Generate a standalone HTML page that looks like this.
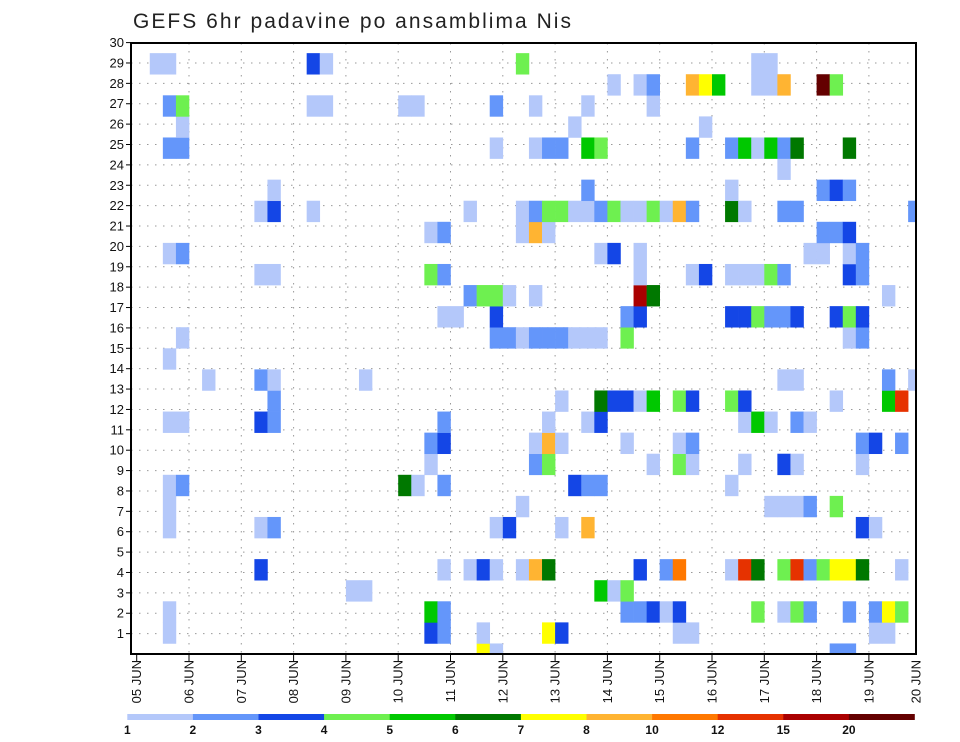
<!DOCTYPE html>
<html><head><meta charset="utf-8">
<style>
body{margin:0;background:#fff;}
svg{display:block;font-family:"Liberation Sans",sans-serif;}
</style></head>
<body>
<svg id="chart" width="960" height="742" viewBox="0 0 960 742">
<text x="133" y="28" font-size="21" fill="#222" textLength="438" lengthAdjust="spacing">GEFS 6hr padavine po ansamblima Nis</text>
<defs><clipPath id="plotclip"><rect x="131" y="43" width="785" height="611"/></clipPath></defs>
<g id="grid"></g>
<g id="cells" clip-path="url(#plotclip)"></g>
<rect x="131" y="43" width="785" height="611" fill="none" stroke="#000" stroke-width="2"/>
<g id="yaxis"></g>
<g id="xaxis"></g>
<g id="legend"></g>
</svg>
<script>
// ---- data ----
const dayLabels = ["05 JUN","06 JUN","07 JUN","08 JUN","09 JUN","10 JUN","11 JUN","12 JUN","13 JUN","14 JUN","15 JUN","16 JUN","17 JUN","18 JUN","19 JUN","20 JUN"];
const yTicks = [1,2,3,4,5,6,7,8,9,10,11,12,13,14,15,16,17,18,19,20,21,22,23,24,25,26,27,28,29,30];
const levels = [1,2,3,4,5,6,7,8,10,12,15,20];
const levelColors = ["#b4c8fa","#6496fa","#1446e6","#6ef050","#00c800","#007800","#ffff00","#ffb432","#ff7800","#e63200","#aa0000","#640000"];
const cellMember = [];
const cellCol = [];
const cellValue = [];
const rowsSpec = {
28:"1:1.5,2:1.5,13:3.5,14:1.5,29:4.5,47:1.5,48:1.5",
27:"36:1.5,38:1.5,39:2.5,42:9,43:7.5,44:5.5,47:1.5,48:1.5,49:9,52:25,53:4.5",
26:"2:2.5,3:4.5,13:1.5,14:1.5,20:1.5,21:1.5,27:2.5,30:1.5,34:1.5,39:1.5",
25:"3:1.5,33:1.5,43:1.5",
24:"2:2.5,3:2.5,27:1.5,30:1.5,31:2.5,32:2.5,34:5.5,35:4.5,42:2.5,45:2.5,46:5.5,47:1.5,48:5.5,49:2.5,50:6.5,54:6.5",
23:"49:1.5",
22:"10:1.5,34:2.5,45:1.5,52:2.5,53:3.5,54:2.5",
21:"9:1.5,10:3.5,13:1.5,25:1.5,29:1.5,30:2.5,31:4.5,32:4.5,33:1.5,34:1.5,35:2.5,36:4.5,37:1.5,38:1.5,39:4.5,40:1.5,41:9,42:2.5,45:6.5,46:1.5,49:2.5,50:2.5,59:2.5",
20:"22:1.5,23:2.5,29:1.5,30:9,31:1.5,52:2.5,53:2.5,54:3.5",
19:"2:1.5,3:2.5,35:1.5,36:3.5,38:1.5,51:1.5,52:1.5,54:1.5,55:2.5",
18:"9:1.5,10:1.5,22:4.5,23:2.5,38:1.5,42:1.5,43:3.5,45:1.5,46:1.5,47:1.5,48:4.5,49:2.5,54:3.5,55:2.5",
17:"25:2.5,26:4.5,27:4.5,28:1.5,30:1.5,38:17,39:6.5,57:1.5",
16:"23:1.5,24:1.5,27:3.5,37:2.5,38:3.5,45:3.5,46:3.5,47:4.5,48:2.5,49:2.5,50:3.5,53:3.5,54:4.5,55:3.5",
15:"3:1.5,27:2.5,28:2.5,29:1.5,30:2.5,31:2.5,32:2.5,33:1.5,34:1.5,35:1.5,37:4.5,54:1.5,55:2.5",
14:"2:1.5",
13:"5:1.5,9:2.5,10:1.5,17:1.5,49:1.5,50:1.5,57:2.5,59:1.5",
12:"10:2.5,32:1.5,35:6.5,36:3.5,37:3.5,38:1.5,39:5.5,41:4.5,42:3.5,45:4.5,46:3.5,53:1.5,57:5.5,58:13",
11:"2:1.5,3:1.5,9:3.5,10:2.5,23:2.5,31:1.5,34:1.5,35:3.5,46:1.5,47:5.5,48:1.5,50:2.5,51:1.5",
10:"22:2.5,23:3.5,30:1.5,31:9,32:1.5,37:1.5,41:1.5,42:2.5,55:2.5,56:3.5,58:2.5",
9:"22:1.5,30:2.5,31:4.5,39:1.5,41:4.5,42:1.5,46:1.5,49:3.5,50:1.5,55:1.5",
8:"2:1.5,3:2.5,20:6.5,21:1.5,23:2.5,33:3.5,34:2.5,35:2.5,45:1.5",
7:"2:1.5,29:1.5,48:1.5,49:1.5,50:1.5,51:2.5,53:4.5",
6:"2:1.5,9:1.5,10:2.5,27:1.5,28:3.5,32:1.5,34:9,55:3.5,56:1.5",
4:"9:3.5,23:1.5,25:1.5,26:3.5,27:1.5,29:1.5,30:9,31:6.5,38:3.5,40:2.5,41:11,45:1.5,46:13,47:6.5,49:4.5,50:13,51:2.5,52:4.5,53:7.5,54:7.5,55:6.5,58:1.5",
3:"16:1.5,17:1.5,35:5.5,36:1.5,37:4.5",
2:"2:1.5,22:5.5,23:2.5,37:2.5,38:2.5,39:3.5,40:1.5,41:3.5,47:4.5,49:1.5,50:4.5,51:2.5,54:2.5,56:2.5,57:7.5,58:4.5",
1:"2:1.5,22:3.5,23:2.5,26:1.5,31:7.5,32:3.5,41:1.5,42:1.5,56:1.5,57:1.5",
0:"26:7.5,27:1.5,53:2.5,54:2.5"
};
for (const m in rowsSpec) {
  rowsSpec[m].split(",").forEach(p => { const [c,v] = p.split(":"); cellMember.push(+m); cellCol.push(+c); cellValue.push(+v); });
}
// ---- scales ----
const NS = "http://www.w3.org/2000/svg";
function xDay(d){ return 136.7 + 52.3*d; }
function yVal(v){ return 654 - 20.38*v; }
function colX(c){ return xDay(c/4); }
const colW = 52.3/4;
function memberY(m){ return yVal(m*30/29); }
const rowH = 20.38*30/29;
function colorFor(v){ let k=0; for(let i=0;i<levels.length;i++){ if(v>=levels[i]) k=i; } return levelColors[k]; }
function mk(tag, attrs, parent){ const e=document.createElementNS(NS,tag); for(const a in attrs) e.setAttribute(a,attrs[a]); parent.appendChild(e); return e; }

const grid = document.getElementById('grid');
yTicks.forEach(t => {
  const l = mk('line',{x1:131,x2:916,y1:yVal(t),y2:yVal(t),stroke:'#999','stroke-width':1,'stroke-dasharray':'1.5,6.5'},grid);
  
  
});
dayLabels.forEach((d,i) => {
  if (i===0 || i===dayLabels.length-1) return;
  const l = mk('line',{x1:xDay(i),x2:xDay(i),y1:43,y2:654,stroke:'#999','stroke-width':1,'stroke-dasharray':'1.5,6.5'},grid);
  
  
});

const cells = document.getElementById('cells');
for (let i=0;i<cellValue.length;i++){
  const r = mk('rect',{x:colX(cellCol[i]),y:memberY(cellMember[i])-rowH/2,width:colW+0.3,height:rowH+0.3,fill:colorFor(cellValue[i])},cells);
  
  
}

const yaxis = document.getElementById('yaxis');
yTicks.forEach(t => {
  const y = yVal(t);
  const tk = mk('line',{x1:126,x2:131,y1:y,y2:y,stroke:'#000','stroke-width':1},yaxis);
  
  
  const tx = mk('text',{x:124,y:y+4.5,'font-size':13,'text-anchor':'end',fill:'#111'},yaxis);
  tx.textContent = t;
  
  
});

const xaxis = document.getElementById('xaxis');
dayLabels.forEach((d,i) => {
  const x = i===dayLabels.length-1 ? 916 : xDay(i);
  if (i < dayLabels.length-1) {
    const tk = mk('line',{x1:x,x2:x,y1:654,y2:662,stroke:'#000','stroke-width':1},xaxis);
    
    
  }
  const tx = mk('text',{x:0,y:0,'font-size':13,'text-anchor':'end',fill:'#111',transform:`translate(${x+4.5},660) rotate(-90)`},xaxis);
  tx.textContent = d;
  
  
});

const legend = document.getElementById('legend');
const lx0 = 127.3, lw = 65.6;
levelColors.forEach((c,i) => {
  const r = mk('rect',{x:lx0+lw*i,y:714,width:lw+0.3,height:6,fill:c},legend);
  
  
});
levels.forEach((v,i) => {
  const tx = mk('text',{x:lx0+lw*i,y:734,'font-size':12,'font-weight':'bold','text-anchor':'middle',fill:'#111'},legend);
  tx.textContent = v;
  
  
});
</script>
</body></html>
